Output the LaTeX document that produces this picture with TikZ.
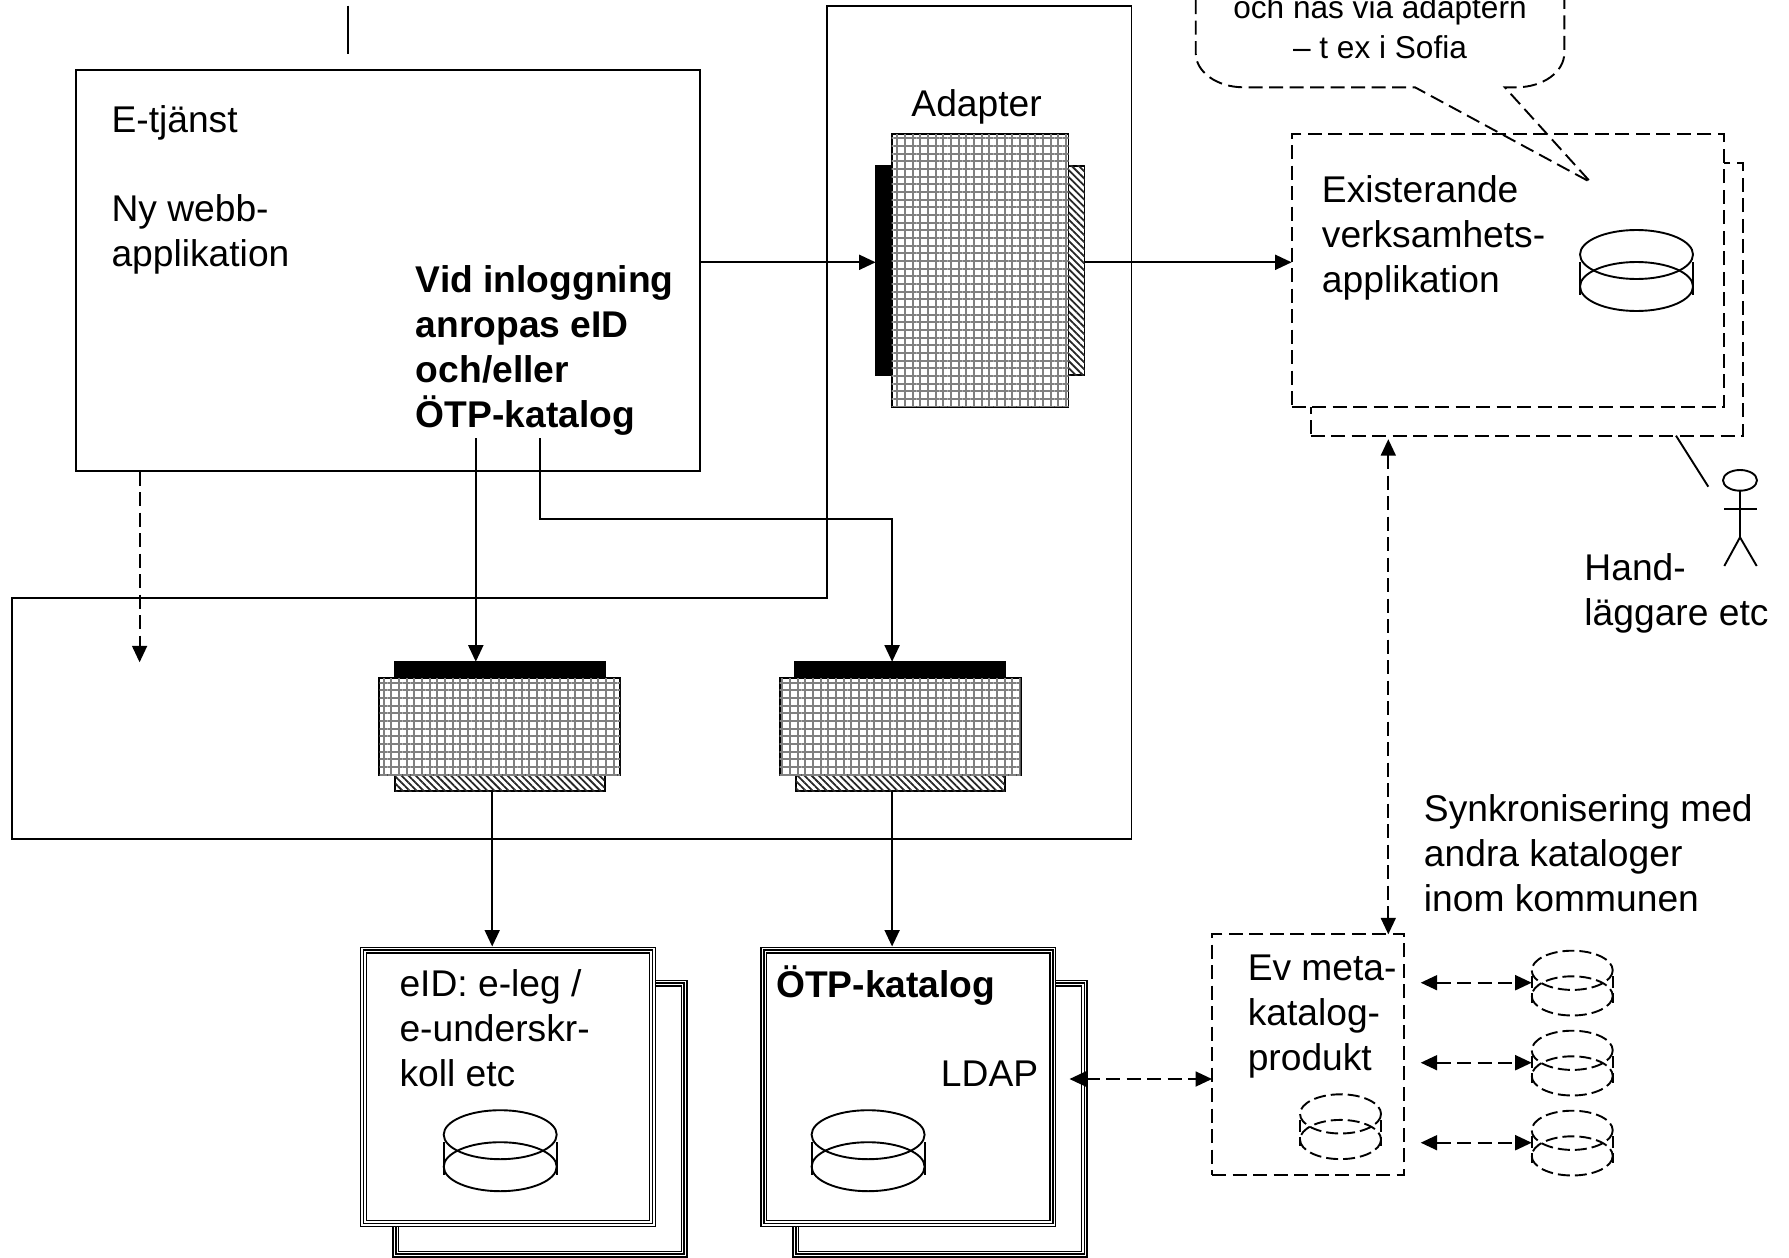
\documentclass[tikz,border=0pt]{standalone}
\usepackage{fontspec}
\setmainfont{Liberation Sans}
\usetikzlibrary{arrows.meta}
\usetikzlibrary{patterns.meta}
\usetikzlibrary{shapes.geometric}

\tikzset{
  lbl/.style={anchor=base west, inner sep=0pt, align=left, font=\fontsize{37.2}{45}\selectfont},
  box/.style={draw, inner sep=0pt, outer sep=0pt},
  gridbox/.style={box, fill=white, postaction={pattern={Hatch[angle=0,distance=7.67pt,line width=2pt]}, pattern color=black!50}},
  blackbar/.style={box, fill=black},
  hatchbar/.style={box, fill=white, postaction={pattern={Lines[angle=-45,distance=5pt,line width=1.8pt]}, pattern color=black!85}},
  dbox/.style={box, fill=white, dash pattern=on 14pt off 6.5pt},
  tripbox/.style={box, fill=white, outer sep=3.5pt, line width=7pt,
    postaction={draw=white, line width=4.2pt}, postaction={draw=black, line width=1.6pt}},
  pil/.style={-{Triangle[length=16.5pt,width=15pt]}},
  dpil/.style={{Triangle[length=16.5pt,width=15pt]}-{Triangle[length=16.5pt,width=15pt]}, dash pattern=on 14pt off 6.5pt},
  smalldb/.style={xscale=0.717, yscale=0.8, dash pattern=on 12pt off 5pt},
  dbcyl/.pic={
    \draw (56.5,24.5) ellipse[x radius=56.5, y radius=24.5];
    \draw (56.5,56.5) ellipse[x radius=56.5, y radius=24.5];
    \draw (0,32) -- (0,65);
    \draw (113,32) -- (113,65);
  }
}

\begin{document}
\begin{tikzpicture}[x=1pt, y=-1pt, line width=1.9pt]
  \useasboundingbox (0,0) rectangle (1789,1258);
  \clip (0,0) rectangle (1789,1258);

  % outer frame
  \draw (827,6) -- (1131.5,6) -- (1131.5,838.7) -- (11.8,838.7) -- (11.8,598.3) -- (827,598.3) -- cycle;

  % e-service
  \node[box, minimum width=624.6pt, minimum height=400.7pt] (etjanst) at (387.9,270.35) {};
  \coordinate (toppA) at (347.9,5.7);
  \coordinate (toppB) at (347.9,54.3);
  \draw (toppA) -- (toppB);
  \node[lbl] (etjtxt) at (110.6,132.7) {E-tjänst};
  \node[lbl] at (110.6,266.7) (nytxt) {Ny webb-\\applikation};
  \node[lbl] at (415,427.2) (vidtxt) {\bfseries Vid inloggning\\\bfseries anropas eID\\\bfseries och/eller\\\bfseries ÖTP-katalog};

  % adapter on top
  \node[blackbar, minimum width=16.1pt, minimum height=209.3pt] (adapin) at (883.65,270.35) {};
  \node[hatchbar, minimum width=16pt, minimum height=209.3pt] (adaput) at (1076.5,270.35) {};
  \node[gridbox, minimum width=176.8pt, minimum height=272.7pt] (adapter) at (980.1,270.35) {};
  \node[lbl] (adaptxt) at (910.5,116) {Adapter};

  % the two lower adapters
  \node[blackbar, minimum width=210.2pt, minimum height=16.5pt] (eidin) at (499.9,669.95) {};
  \node[hatchbar, minimum width=209.4pt, minimum height=15.8pt] (eidut) at (500,783.1) {};
  \node[gridbox, minimum width=240.9pt, minimum height=97pt] (eidgrid) at (499.75,726.7) {};
  \node[blackbar, minimum width=210.2pt, minimum height=16.5pt] (otpin) at (900.1,669.95) {};
  \node[hatchbar, minimum width=209.4pt, minimum height=15.8pt] (otput) at (900.25,783.1) {};
  \node[gridbox, minimum width=240.9pt, minimum height=97pt] (otpgrid) at (900.15,726.7) {};

  % directories
  \node[tripbox, minimum width=288.5pt, minimum height=271pt] (eidbak) at (539.95,1118.5) {};
  \node[tripbox, minimum width=288.9pt, minimum height=273.4pt] (eidkat) at (507.95,1086.7) {};
  \node[lbl] (eidtxt) at (398.6,1086.9) {eID: e-leg /\\e-underskr-\\koll etc};
  \pic at (443.7,1110.2) {dbcyl};
  \node[tripbox, minimum width=288.5pt, minimum height=271pt] (otpbak) at (940.05,1118.5) {};
  \node[tripbox, minimum width=288.9pt, minimum height=273.4pt] (otpkat) at (908.35,1086.7) {};
  \node[lbl] (otptxt) at (775.3,997.7) {\bfseries ÖTP-katalog};
  \node[lbl] (ldaptxt) at (940,1086.4) {LDAP};
  \pic at (811.6,1110.2) {dbcyl};

  % existing application
  \node[dbox, minimum width=432.3pt, minimum height=272.4pt] (appbak) at (1526.85,299.5) {};
  \node[dbox, minimum width=432.4pt, minimum height=272.4pt] (app) at (1507.8,270.5) {};
  \node[lbl] (apptxt) at (1321,292.7) {Existerande\\verksamhets-\\applikation};
  \pic at (1580,230) {dbcyl};

  % callout
  \draw[dash pattern=on 14pt off 6.5pt] (1195.7,0) -- (1195.7,53) .. controls (1195.7,72) and (1217,87.3) .. (1243.7,87.3)
    -- (1415,87.3) -- (1590.7,182.3) -- (1504.8,87.3) -- (1516.3,87.3)
    .. controls (1543,87.3) and (1564.3,72) .. (1564.3,53) -- (1564.3,0);
  \node[anchor=base, inner sep=0pt, align=center, font=\fontsize{31.6}{39.4}\selectfont] (bubbla) at (1380,58.3) {och nås via adaptern\\– t ex i Sofia};

  % person
  \node[draw, ellipse, inner sep=0pt, outer sep=0pt, minimum width=34pt, minimum height=20.7pt] (huvud) at (1740,480.35) {};
  \coordinate (midja) at (1740,537.3);
  \coordinate (armV) at (1724.3,509);
  \coordinate (armH) at (1756.7,509);
  \coordinate (benV) at (1724.3,566);
  \coordinate (benH) at (1756.7,566);
  \coordinate (strA) at (1676,435.7);
  \coordinate (strB) at (1708.3,486.7);
  \draw (huvud.south) -- (midja);
  \draw (armV) -- (armH);
  \draw (benV) -- (midja) -- (benH);
  \draw (strA) -- (strB);
  \node[lbl] (handtxt) at (1583.5,625) {Hand-\\läggare etc};

  % metadirectory
  \node[dbox, minimum width=192.3pt, minimum height=240.7pt] (meta) at (1308.15,1054.65) {};
  \node[lbl] (metatxt) at (1246.8,1070) {Ev meta-\\katalog-\\produkt};
  \pic[smalldb] at (1300,1094.3) {dbcyl};
  \pic[smalldb] at (1531.7,950.7) {dbcyl};
  \pic[smalldb] at (1531.7,1030.7) {dbcyl};
  \pic[smalldb] at (1531.7,1110.7) {dbcyl};
  \node[lbl] (synktxt) at (1423,911.7) {Synkronisering med\\andra kataloger\\inom kommunen};

  % connectors
  \coordinate (rad) at (0,262.3);
  \coordinate (etjA) at (475.8,438.3);
  \coordinate (etjB) at (539.8,438.3);
  \coordinate (hornB) at (539.8,518.7);
  \coordinate (hornC) at (892.1,518.7);
  \coordinate (etjD) at (139.6,471.7);
  \coordinate (etjE) at (139.6,662.3);
  \coordinate (eidned) at (492.2,0);
  \coordinate (otpned) at (892.1,0);
  \coordinate (synk) at (1388.3,0);
  \coordinate (ldap) at (1069.5,1079);
  \coordinate (sA) at (1420.7,982.7);
  \coordinate (sB) at (1420.7,1062.7);
  \coordinate (sC) at (1420.7,1142.7);
  \coordinate (dA) at (1531.7,982.7);
  \coordinate (dB) at (1531.7,1062.7);
  \coordinate (dC) at (1531.7,1142.7);

  \draw[pil] (etjanst.east |- rad) -- (adapin.west |- rad);
  \draw[pil] (adaput.east |- rad) -- (app.west |- rad);
  \draw[pil] (etjA) -- (etjA |- eidin.north);
  \draw[pil] (etjB) -- (hornB) -- (hornC) -- (hornC |- otpin.north);
  \draw[pil, dash pattern=on 14pt off 6.5pt] (etjD) -- (etjE);
  \draw[pil] (eidut.south -| eidned) -- (eidkat.north -| eidned);
  \draw[pil] (otput.south -| otpned) -- (otpkat.north -| otpned);
  \draw[dpil, shorten <=3.5pt] (appbak.south -| synk) -- (meta.north -| synk);
  \draw[dpil] (ldap) -- (meta.west |- ldap);
  \draw[dpil] (sA) -- (dA);
  \draw[dpil] (sB) -- (dB);
  \draw[dpil] (sC) -- (dC);
\end{tikzpicture}
\end{document}
